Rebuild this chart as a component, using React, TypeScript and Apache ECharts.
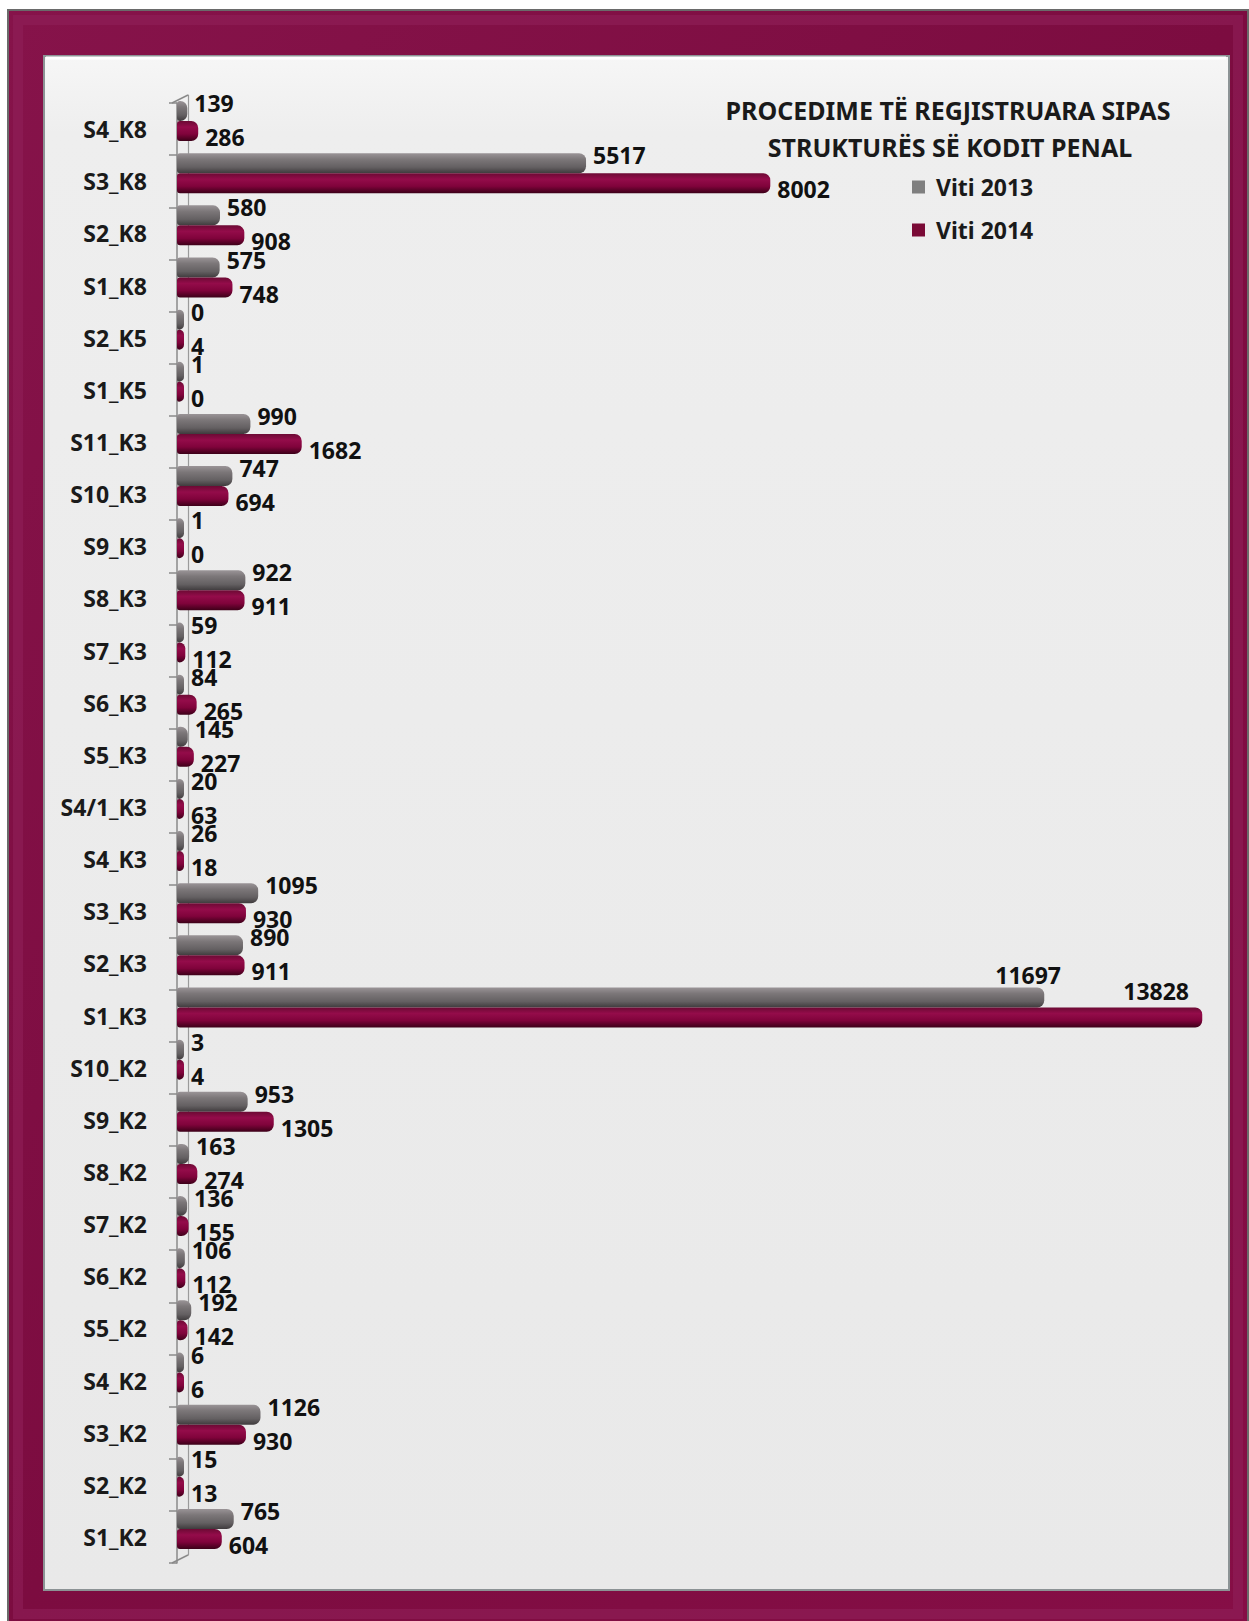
import React, { useEffect, useRef } from 'react';
import * as echarts from 'echarts';

const categories = [
  'S4_K8', 'S3_K8', 'S2_K8', 'S1_K8', 'S2_K5', 'S1_K5', 'S11_K3', 'S10_K3', 'S9_K3', 'S8_K3',
  'S7_K3', 'S6_K3', 'S5_K3', 'S4/1_K3', 'S4_K3', 'S3_K3', 'S2_K3', 'S1_K3', 'S10_K2', 'S9_K2',
  'S8_K2', 'S7_K2', 'S6_K2', 'S5_K2', 'S4_K2', 'S3_K2', 'S2_K2', 'S1_K2',
];
const values2013 = [
  139, 5517, 580, 575, 0, 1, 990, 747, 1, 922,
  59, 84, 145, 20, 26, 1095, 890, 11697, 3, 953,
  163, 136, 106, 192, 6, 1126, 15, 765,
];
const values2014 = [
  286, 8002, 908, 748, 4, 0, 1682, 694, 0, 911,
  112, 265, 227, 63, 18, 930, 911, 13828, 4, 1305,
  274, 155, 112, 142, 6, 930, 13, 604,
];
const seriesNames = ['Viti 2013', 'Viti 2014'];
const titleLines = ['PROCEDIME TË REGJISTRUARA SIPAS', 'STRUKTURËS SË KODIT PENAL'];
const valueMax = 14000;

const FONT = "'Noto Sans', 'DejaVu Sans', sans-serif";

const grayGradient = () =>
  new echarts.graphic.LinearGradient(0, 0, 0, 1, [
    { offset: 0, color: '#9a9497' },
    { offset: 0.3, color: '#7c7779' },
    { offset: 0.7, color: '#646062' },
    { offset: 1, color: '#3f3b3d' },
  ]);
const maroonGradient = () =>
  new echarts.graphic.LinearGradient(0, 0, 0, 1, [
    { offset: 0, color: '#6c0a34' },
    { offset: 0.3, color: '#940c4a' },
    { offset: 0.65, color: '#80033b' },
    { offset: 1, color: '#3c0018' },
  ]);

function buildData(values: number[], bigOffset: number[]) {
  return values.map((v) =>
    v > 10000 ? { value: v, label: { offset: bigOffset } } : { value: v }
  );
}

export default function App() {
  const ref = useRef<HTMLDivElement>(null);

  useEffect(() => {
    if (!ref.current) return;
    const chart = echarts.init(ref.current, null, { renderer: 'svg' });

    const labelBase = {
      show: true,
      position: 'right',
      distance: 7,
      fontFamily: FONT,
      fontSize: 23,
      lineHeight: 22,
      fontWeight: 'bold',
      color: '#111111',
    };

    const titleStyle = (text: string, x: number, y: number) => ({
      type: 'text',
      z: 10,
      style: {
        text,
        x,
        y,
        textAlign: 'center',
        align: 'center',
        textVerticalAlign: 'middle',
        verticalAlign: 'middle',
        font: `bold 25px ${FONT}`,
        fill: '#1a1a1a',
      },
    });

    const option: any = {
      animation: false,
      backgroundColor: '#ffffff',
      textStyle: { fontFamily: FONT },
      graphic: [
        {
          type: 'rect',
          z: -20,
          shape: { x: 8, y: 10, width: 1240, height: 1612 },
          style: {
            fill: new echarts.graphic.LinearGradient(0, 0, 1, 1, [
              { offset: 0, color: '#86134a' },
              { offset: 0.5, color: '#7c0c40' },
              { offset: 1, color: '#860e46' },
            ]),
            stroke: '#6a6a6a',
            lineWidth: 2,
          },
        },
        {
          type: 'rect',
          z: -19,
          shape: { x: 18, y: 20, width: 1220, height: 1594 },
          style: { fill: 'none', stroke: '#902058', lineWidth: 10, opacity: 0.6 },
        },
        {
          type: 'rect',
          z: -18,
          shape: { x: 44, y: 56, width: 1185, height: 1534 },
          style: {
            fill: new echarts.graphic.LinearGradient(0, 0, 0, 1, [
              { offset: 0, color: '#f6f6f6' },
              { offset: 0.05, color: '#eeeeee' },
              { offset: 1, color: '#e9e9e9' },
            ]),
            stroke: '#8c9395',
            lineWidth: 2,
          },
        },
        {
          type: 'line',
          z: -17,
          shape: { x1: 46, y1: 58, x2: 1226, y2: 58 },
          style: { stroke: '#ffffff', lineWidth: 3 },
        },
        {
          type: 'line',
          z: 5,
          shape: { x1: 172, y1: 103, x2: 188, y2: 95 },
          style: { stroke: '#8a8a8a', lineWidth: 1.5 },
        },
        {
          type: 'line',
          z: 5,
          shape: { x1: 172, y1: 1563, x2: 188, y2: 1555 },
          style: { stroke: '#8a8a8a', lineWidth: 1.5 },
        },
        titleStyle(titleLines[0], 948, 110),
        titleStyle(titleLines[1], 950, 147),
      ],
      legend: {
        orient: 'vertical',
        left: 907,
        top: 170,
        itemWidth: 13,
        itemHeight: 13,
        itemGap: 19,
        icon: 'rect',
        formatter: (name: string) => ' ' + name,
        textStyle: {
          fontFamily: FONT,
          fontSize: 23,
          fontWeight: 'bold',
          color: '#1a1a1a',
          lineHeight: 24,
        },
        data: [
          { name: seriesNames[0], itemStyle: { color: '#7f7f7f' } },
          { name: seriesNames[1], itemStyle: { color: '#7a0a36' } },
        ],
      },
      grid: [
        { left: 177, right: 34, top: 103, bottom: 58 },
        { left: 177, right: 34, top: 95, bottom: 66 },
      ],
      xAxis: [
        { gridIndex: 0, type: 'value', min: 0, max: valueMax, show: false },
        { gridIndex: 1, type: 'value', min: 0, max: valueMax, show: false },
      ],
      yAxis: [
        {
          gridIndex: 0,
          type: 'category',
          data: categories,
          inverse: true,
          offset: 5,
          axisLine: { show: true, lineStyle: { color: '#8a8a8a', width: 1.5 } },
          axisTick: { show: true, length: 8, lineStyle: { color: '#8a8a8a', width: 1.5 } },
          axisLabel: {
            margin: 25,
            fontFamily: FONT,
            fontSize: 23,
            fontWeight: 'bold',
            color: '#1a1a1a',
          },
          splitLine: { show: false },
        },
        {
          gridIndex: 1,
          type: 'category',
          data: categories,
          inverse: true,
          offset: -11,
          axisLine: { show: true, lineStyle: { color: '#9a9a9a', width: 1.2 } },
          axisTick: { show: false },
          axisLabel: { show: false },
          splitLine: { show: false },
        },
      ],
      series: [
        {
          name: seriesNames[0],
          type: 'bar',
          xAxisIndex: 1,
          yAxisIndex: 1,
          barWidth: 20,
          barGap: '0%',
          barMinHeight: 7,
          data: buildData(values2013, [-56, -23]),
          itemStyle: { color: grayGradient(), borderRadius: [3, 7, 7, 3] },
          label: { ...labelBase, offset: [0, -8] },
        },
        {
          name: seriesNames[1],
          type: 'bar',
          xAxisIndex: 1,
          yAxisIndex: 1,
          barWidth: 20,
          barGap: '0%',
          barMinHeight: 7,
          data: buildData(values2014, [-86, -27]),
          itemStyle: { color: maroonGradient(), borderRadius: [3, 7, 7, 3] },
          label: { ...labelBase, offset: [0, 6] },
        },
      ],
    };

    chart.setOption(option);
    return () => chart.dispose();
  }, []);

  return (
    <div
      ref={ref}
      style={{ position: 'absolute', left: 0, top: 0, width: 1249, height: 1621 }}
    />
  );
}
